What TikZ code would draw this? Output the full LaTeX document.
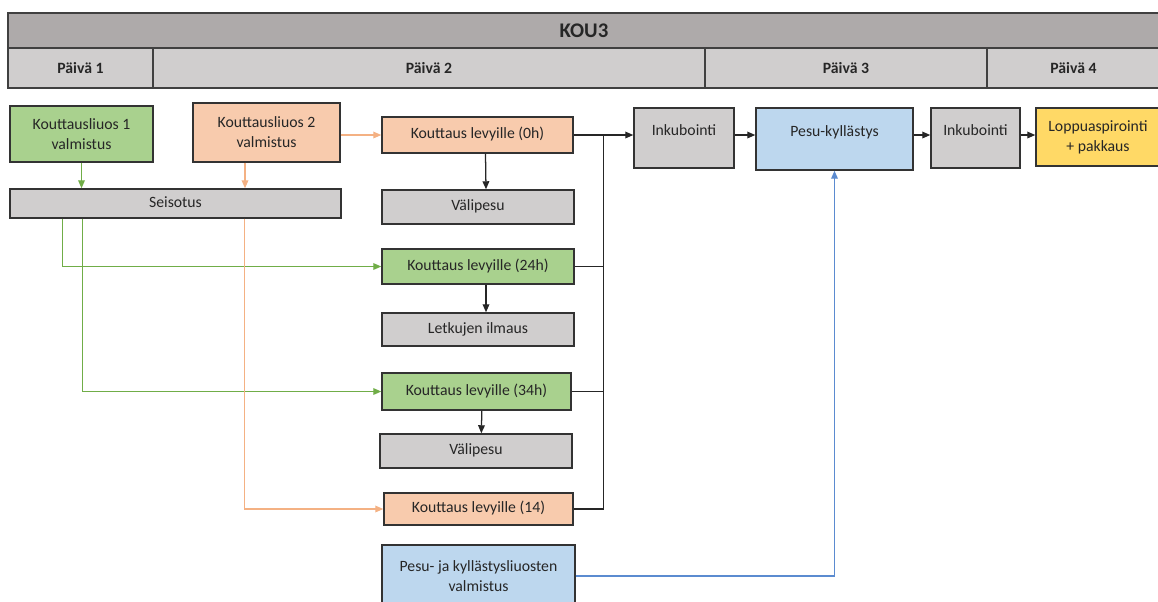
\documentclass[tikz,border=0pt]{standalone}
\usepackage{fontspec}
\setmainfont{Carlito}
\usetikzlibrary{arrows.meta,calc}
\definecolor{headgray}{HTML}{AEAAAA}
\definecolor{boxgray}{HTML}{D0CECE}
\definecolor{boxgreen}{HTML}{A9D18E}
\definecolor{boxorange}{HTML}{F8CBAD}
\definecolor{boxblue}{HTML}{BDD7EE}
\definecolor{boxyellow}{HTML}{FFD966}
\definecolor{lngreen}{HTML}{70AD47}
\definecolor{lnorange}{HTML}{F4B183}
\definecolor{lnblue}{HTML}{5B8BD0}
\tikzset{
  stepbox/.style={draw=black!80, line width=1.1pt, inner sep=0pt, align=center,
    text=black!85, font=\fontsize{11.8}{15}\selectfont},
  oneline/.style={text height=8.2pt, text depth=2.4pt},
  topline/.style={text height=8.2pt, text depth=12.4pt},
  headcell/.style={draw=black!75, line width=1.1pt, inner sep=0pt, fill=boxgray,
    font=\bfseries\fontsize{11.8}{14}\selectfont, text=black!85, minimum height=30pt},
  arr/.style={-{Triangle[length=6pt,width=5pt]}, line width=0.95pt, black!85},
  ln/.style={line width=0.95pt, black!85},
  garr/.style={arr, lngreen},
  oarr/.style={arr, lnorange},
  barr/.style={arr, lnblue}
}
\begin{document}
\begin{tikzpicture}[x=0.75pt,y=-0.75pt]
\useasboundingbox (0,0) rectangle (1158,601);
\node[headcell, fill=headgray, minimum width=864pt, minimum height=26.25pt,
  font=\bfseries\fontsize{15.6}{18}\selectfont] (kou) at (584,30.5) {KOU3};
\node[headcell, minimum width=108.75pt] (day1) at (80.5,68) {Päivä 1};
\node[headcell, minimum width=414pt] (day2) at (429,68) {Päivä 2};
\node[headcell, minimum width=211.5pt] (day3) at (846,68) {Päivä 3};
\node[headcell, minimum width=129.75pt] (day4) at (1073.5,68) {Päivä 4};

\node[stepbox, fill=boxgreen, minimum width=107.25pt, minimum height=42pt] (k1) at (81.5,134) {Kouttausliuos 1\\valmistus};
\node[stepbox, fill=boxorange, minimum width=110.25pt, minimum height=44.25pt] (k2) at (266.5,132.5) {Kouttausliuos 2\\valmistus};
\node[stepbox, oneline, fill=boxgray, minimum width=248.25pt, minimum height=21.75pt] (seis) at (175.5,203.5) {Seisotus};

\node[stepbox, oneline, fill=boxorange, minimum width=143.25pt, minimum height=27pt] (k0) at (477.5,135) {Kouttaus levyille (0h)};
\node[stepbox, oneline, fill=boxgray, minimum width=144pt, minimum height=25.5pt] (vp1) at (478,207) {Välipesu};
\node[stepbox, oneline, fill=boxgreen, minimum width=144pt, minimum height=26.25pt] (k24) at (478,266.5) {Kouttaus levyille (24h)};
\node[stepbox, oneline, fill=boxgray, minimum width=144pt, minimum height=24.75pt] (letk) at (478,329.5) {Letkujen ilmaus};
\node[stepbox, oneline, fill=boxgreen, minimum width=141.75pt, minimum height=27.75pt] (k34) at (476.5,391.5) {Kouttaus levyille (34h)};
\node[stepbox, oneline, fill=boxgray, minimum width=144pt, minimum height=25.5pt] (vp2) at (476,451) {Välipesu};
\node[stepbox, oneline, fill=boxorange, minimum width=141.75pt, minimum height=24pt] (k14) at (478.5,509) {Kouttaus levyille (14)};
\node[stepbox, fill=boxblue, minimum width=144.75pt, minimum height=46.5pt] (pesuv) at (478.5,576) {Pesu- ja kyllästysliuosten\\valmistus};

\node[stepbox, topline, fill=boxgray, minimum width=75pt, minimum height=45pt] (ink1) at (684,138) {Inkubointi};
\node[stepbox, topline, fill=boxblue, minimum width=117.75pt, minimum height=46.5pt] (pesu) at (834.5,139) {Pesu-kyllästys};
\node[stepbox, topline, fill=boxgray, minimum width=66.75pt, minimum height=45pt] (ink2) at (975.5,138) {Inkubointi};
\node[stepbox, fill=boxyellow, minimum width=93pt, minimum height=43.5pt] (lopp) at (1098,137) {Loppuaspirointi\\+ pakkaus};

\coordinate (k2s) at ($(k2.south)+(-21.5,0)$);
\coordinate (g1) at ($(seis.south west)+(53,0)$);
\coordinate (g2) at ($(seis.south west)+(73,0)$);
\coordinate (o1) at ($(seis.south west)+(235,0)$);
\coordinate (bus) at ($(k0.east)+(30,0)$);

\draw[garr] (k1.south) -- (k1.south |- seis.north);
\draw[oarr] (k2s) -- (k2s |- seis.north);
\draw[oarr] (k2.east |- k0.west) -- (k0.west);
\draw[garr] (g1) |- (k24.west);
\draw[garr] (g2) |- (k34.west);
\draw[oarr] (o1) |- (k14.west);

\draw[arr] ([xshift=6pt]k0.south) -- ([xshift=6pt]vp1.north);
\draw[arr] ([xshift=6pt]k24.south) -- ([xshift=6pt]letk.north);
\draw[arr] ([xshift=4pt]k34.south) -- ([xshift=4pt]vp2.north);

\draw[arr] (k0.east) -- (ink1.west |- k0.east);
\draw[ln] (k24.east) -- (k24.east -| bus);
\draw[ln] (k34.east) -- (k34.east -| bus);
\draw[ln] (k14.east) -| (bus);

\draw[arr] (ink1.east |- k0.east) -- (pesu.west |- k0.east);
\draw[arr] (pesu.east |- k0.east) -- (ink2.west |- k0.east);
\draw[arr] (ink2.east |- k0.east) -- (lopp.west |- k0.east);
\draw[barr] (pesuv.east) -| (pesu.south);
\end{tikzpicture}
\end{document}
